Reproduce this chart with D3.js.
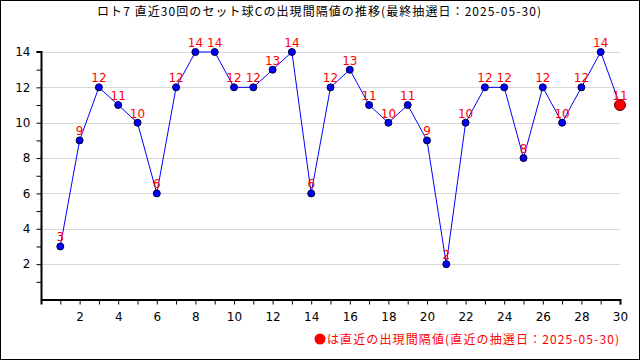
<!DOCTYPE html>
<html>
<head>
<meta charset="utf-8">
<script src="https://cdn.jsdelivr.net/npm/d3@7"></script>
<style>
  body{ margin:0; background:#fff; }
  svg text{ font-family:"Noto Sans CJK JP","DejaVu Sans",sans-serif; }
</style>
</head>
<body>
<div id="chart"></div>
<script>
// Draw counts 1..30 and the interval value of set ball C.
const draws = d3.range( 1, 31 );
const intervals = [3, 9, 12, 11, 10, 6, 12, 14, 14, 12, 12, 13, 14, 6, 12, 13, 11, 10, 11, 9, 2, 10, 12, 12, 8, 12, 10, 12, 14, 11];
const y_ticks = [2, 4, 6, 8, 10, 12, 14];
const x_ticks = [2, 4, 6, 8, 10, 12, 14, 16, 18, 20, 22, 24, 26, 28, 30];
const title_text = 'ロト7 直近30回のセット球Cの出現間隔値の推移(最終抽選日：2025-05-30)';
const legend_text = 'は直近の出現間隔値(直近の抽選日：2025-05-30)';

const W = 640, H = 360;
const margin = { left: 41, right: 20, top: 40, bottom: 60 };

const svg = d3.select( '#chart' ).append( 'svg' )
  .attr( 'width', W ).attr( 'height', H );

// Outer frame
svg.append( 'rect' )
  .attr( 'x', 0.5 ).attr( 'y', 0.5 )
  .attr( 'width', W - 1 ).attr( 'height', H - 1 )
  .attr( 'fill', '#fff' ).attr( 'stroke', '#000' );

svg.append( 'text' )
  .attr( 'x', 97 ).attr( 'y', 16 )
  .attr( 'textLength', 444 )
  .attr( 'lengthAdjust', 'spacing' )
  .style( 'font-size', '12px' )
  .text( title_text );

const x = d3.scaleLinear().domain( [0, 30] ).range( [margin.left, W - margin.right] );
const y = d3.scaleLinear().domain( [0, 14] ).range( [299.5, 52] );

// Grid lines
svg.append( 'g' ).selectAll( 'line' )
  .data( y_ticks )
  .enter().append( 'line' )
    .attr( 'x1', x( 0 ) ).attr( 'x2', x( 30 ) )
    .attr( 'y1', d => Math.round( y( d ) ) + 0.5 ).attr( 'y2', d => Math.round( y( d ) ) + 0.5 )
    .attr( 'stroke', '#d8d8d8' );

// Axes
const x_axis = svg.append( 'g' )
  .attr( 'transform', 'translate(0,' + y( 0 ) + ')' )
  .call( d3.axisBottom( x ).tickValues( d3.range( 1, 31 ) ).tickSize( 5 )
    .tickFormat( d => x_ticks.includes( d ) ? d : '' ) );
const y_axis = svg.append( 'g' )
  .attr( 'transform', 'translate(' + ( x( 0 ) + 0.5 ) + ',0)' )
  .call( d3.axisLeft( y ).tickValues( d3.range( 1, 15 ) ).tickSize( 5 )
    .tickFormat( d => y_ticks.includes( d ) ? d : '' ) );

[x_axis, y_axis].forEach( a => {
  a.select( '.domain' ).attr( 'stroke', '#000' ).attr( 'stroke-width', 2 );
  a.selectAll( 'text' ).style( 'font-size', '12px' ).attr( 'fill', '#000' )
    .style( 'font-family', '"DejaVu Sans",sans-serif' );
});
y_axis.select( '.domain' ).attr( 'd', 'M-5,' + y( 14 ) + 'H0V' + y( 0 ) );
x_axis.selectAll( 'text' ).attr( 'dy', '1.1em' );
y_axis.selectAll( 'text' ).attr( 'x', -11 );

// Line
svg.append( 'path' )
  .datum( intervals )
  .attr( 'fill', 'none' )
  .attr( 'stroke', '#0000ff' )
  .attr( 'stroke-width', 1 )
  .attr( 'd', d3.line().x( ( d, i ) => x( draws[i] ) ).y( d => y( d ) ) );

// Points
const last = intervals.length - 1;
svg.append( 'g' ).selectAll( 'circle' )
  .data( intervals )
  .enter().append( 'circle' )
    .attr( 'cx', ( d, i ) => x( draws[i] ) )
    .attr( 'cy', d => y( d ) )
    .attr( 'r', ( d, i ) => i == last ? 5.5 : 3.5 )
    .attr( 'fill', ( d, i ) => i == last ? '#ff0000' : '#0000ff' )
    .attr( 'stroke', ( d, i ) => i == last ? '#550000' : '#000033' );

// Value labels
svg.append( 'g' ).selectAll( 'text' )
  .data( intervals )
  .enter().append( 'text' )
    .attr( 'x', ( d, i ) => x( draws[i] ) )
    .attr( 'y', d => y( d ) - 5 )
    .attr( 'text-anchor', 'middle' )
    .attr( 'fill', '#ff0000' )
    .style( 'font-size', '12px' )
    .style( 'font-family', '"DejaVu Sans",sans-serif' )
    .text( d => d );

// Legend
svg.append( 'circle' )
  .attr( 'cx', 320 ).attr( 'cy', 339 ).attr( 'r', 5.5 )
  .attr( 'fill', '#ff0000' );
svg.append( 'text' )
  .attr( 'x', 327 ).attr( 'y', 344 )
  .attr( 'textLength', 292 )
  .attr( 'lengthAdjust', 'spacing' )
  .attr( 'fill', '#ff0000' )
  .style( 'font-size', '12px' )
  .text( legend_text );
</script>
</body>
</html>
